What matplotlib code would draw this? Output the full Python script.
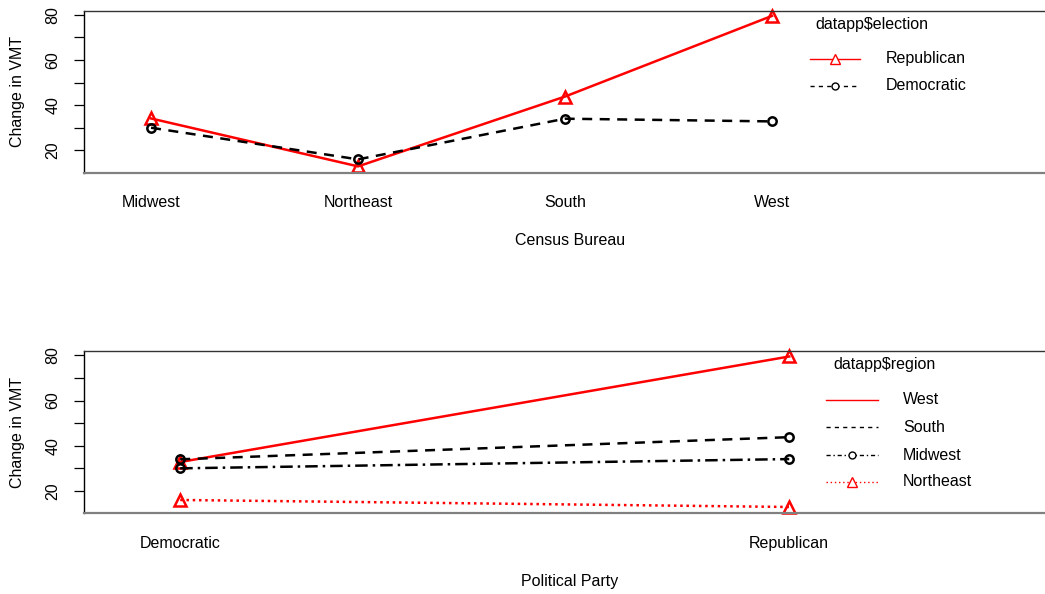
import matplotlib
matplotlib.use("Agg")
import matplotlib.pyplot as plt
from matplotlib.lines import Line2D

plt.rcParams['font.family'] = ['Liberation Sans', 'DejaVu Sans']

# Mean change in VMT by census region and political party
regions = ["Midwest", "Northeast", "South", "West"]
parties_top = ["Republican", "Democratic"]
republican = [34.1, 12.9, 43.8, 79.5]
democratic = [30.0, 16.0, 34.0, 32.8]

parties = ["Democratic", "Republican"]
region_order = ["West", "South", "Midwest", "Northeast"]
west = [32.8, 79.5]
south = [34.0, 43.8]
midwest = [30.0, 34.1]
northeast = [16.0, 12.9]

W, H = 1045, 594
fig = plt.figure(figsize=(W / 100, H / 100), dpi=100)

FS = 11.5
AX_W = W - 84


def fx(px):
    return px / W


def fy(py):
    return 1 - py / H


def style_axes(ax, xticks, xlabels, xlabel):
    ax.set_ylim(10.1, 81.8)
    ax.set_yticks([20, 40, 60, 80])
    ax.set_yticks([30, 50, 70], minor=True)
    ax.tick_params(axis='y', which='both', direction='out', length=7,
                   width=0.9, labelsize=FS, pad=10)
    for lab in ax.get_yticklabels():
        lab.set_rotation(90)
        lab.set_va('center')
    ax.set_xticks(xticks)
    ax.set_xticklabels(xlabels, fontsize=FS)
    ax.tick_params(axis='x', length=0, pad=16)
    ax.spines['right'].set_visible(False)
    ax.spines['left'].set_linewidth(1.0)
    ax.spines['top'].set_linewidth(1.0)
    ax.spines['top'].set_color('#333333')
    ax.spines['bottom'].set_color('#808080')
    ax.spines['bottom'].set_linewidth(1.6)
    ax.set_ylabel("Change in VMT", fontsize=FS)
    ax.set_xlabel(xlabel, fontsize=FS)
    ax.yaxis.set_label_coords((25 - 84) / AX_W, 0.5)
    ax.xaxis.set_label_coords((570 - 84) / AX_W, -0.375)


LW = 1.8
tri = dict(marker='^', markersize=8, markerfacecolor='none', markeredgewidth=1.8)
circ = dict(marker='o', markersize=6, markerfacecolor='none', markeredgewidth=1.8)

# ---- top panel: by census region ----
ax1 = fig.add_axes([fx(84), fy(172.7), fx(AX_W), (172.7 - 10.7) / H])
xs = list(range(1, len(regions) + 1))
ax1.plot(xs, republican, color='red', lw=LW, ls='-', **tri, clip_on=False)
ax1.plot(xs, democratic, color='black', lw=LW, ls=(0, (4, 3)), **circ, clip_on=False)
ax1.set_xlim(0.676, 5.319)
style_axes(ax1, xs, regions, "Census Bureau")

# ---- bottom panel: by political party ----
ax2 = fig.add_axes([fx(84), fy(513.3), fx(AX_W), (513.3 - 351.3) / H])
xp = list(range(1, len(parties) + 1))
ax2.plot(xp, west, color='red', lw=LW, ls='-', **tri, clip_on=False)
ax2.plot(xp, south, color='black', lw=LW, ls=(0, (4, 3)), **circ, clip_on=False)
ax2.plot(xp, midwest, color='black', lw=LW, ls=(0, (5, 2, 1, 2)), **circ, clip_on=False)
ax2.plot(xp, northeast, color='red', lw=LW, ls=(0, (1, 1.5)), **tri, clip_on=False)
ax2.set_xlim(0.842, 2.42)
style_axes(ax2, xp, parties, "Political Party")


# ---- legends ----
def legend_entry(x0, x1, y, text, tx, color, ls, marker=None, ms=6):
    xm = (x0 + x1) / 2
    fig.add_artist(Line2D([fx(x0), fx(x1)], [fy(y), fy(y)], color=color, lw=1.0,
                          ls=ls, transform=fig.transFigure))
    if marker:
        fig.add_artist(Line2D([fx(xm)], [fy(y)], color=color, marker=marker,
                              markersize=ms, markerfacecolor='white',
                              markeredgewidth=1.0, transform=fig.transFigure))
    fig.text(fx(tx), fy(y), text, fontsize=FS, va='center', ha='left')


fig.text(fx(815), fy(24), "datapp$election", fontsize=FS, va='center', ha='left')
legend_entry(810, 860, 59, parties_top[0], 886, 'red', '-', '^', 7)
legend_entry(810, 860, 86, parties_top[1], 886, 'black', (0, (3, 3)), 'o', 5)

fig.text(fx(833), fy(365), "datapp$region", fontsize=FS, va='center', ha='left')
legend_entry(826, 878, 400, region_order[0], 903, 'red', '-')
legend_entry(826, 878, 427, region_order[1], 903, 'black', (0, (3, 3)))
legend_entry(826, 878, 455, region_order[2], 903, 'black', (0, (3, 2, 1, 2)), 'o', 5)
legend_entry(826, 878, 482, region_order[3], 903, 'red', (0, (1, 2)), '^', 7)

fig.savefig("out.png", dpi=100)
